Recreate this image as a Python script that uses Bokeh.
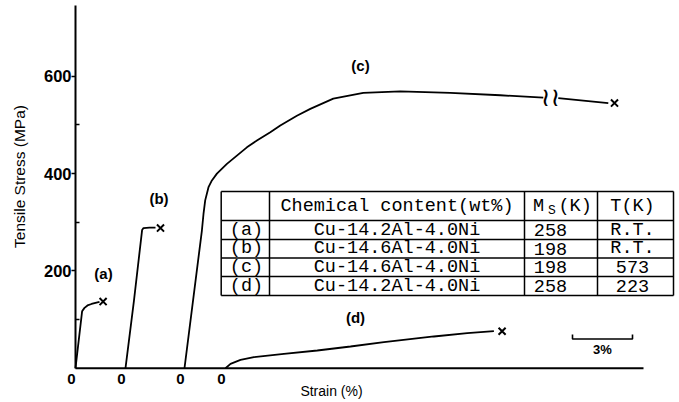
import math
from bokeh.plotting import figure
from bokeh.models import FixedTicker, Range1d
from bokeh.embed import file_html
from bokeh.resources import INLINE
from bokeh.core.properties import value

# ---------------- data (strain in %, stress in MPa) ----------------
curve_names = ["(a)", "(b)", "(c)", "(d)"]
curve_origins = [0.0, 2.5, 5.45, 7.5]          # strain offset where each curve starts

a_strain = [0, 0.33, 0.45, 0.6, 0.8, 1.05, 1.2]
a_stress = [0, 117, 124, 129, 132, 135, 136.5]
a_fracture = [1.38, 137]

b_strain = [0, 0.42, 0.83, 0.9, 1.2, 1.5]
b_stress = [0, 138, 284, 288, 289, 289]
b_fracture = [1.75, 288]

c_strain = [0, 0.87, 0.95, 1.035, 1.2, 1.37, 1.62, 2.12, 2.62, 3.12, 3.62,
            4.29, 4.79, 5.62, 6.29, 7.44, 8.94, 10.79, 13.29, 15.79, 17.94]
c_stress = [0, 283, 317, 345, 372, 386, 400, 420, 437, 454, 468,
            485, 499, 519, 533, 554, 566, 569, 566, 561, 556]
c_break_strain = 18.3
c_break_stress = 557
c_after_strain = [18.69, 21.19]
c_after_stress = [555, 545]
c_fracture = [21.5, 545]

d_strain = [0, 0.25, 0.75, 1.42, 2.92, 4.59, 6.25, 7.92, 10.42, 12.09, 13.42]
d_stress = [0, 9, 17, 22.6, 29.6, 36.4, 44.6, 53.4, 65.2, 71.9, 76]
d_fracture = [13.83, 76]

y_ticks = [200, 400, 600]
y_minor_ticks = [100, 300, 500]
y_axis_top = 745
zero_label = "0"
strain_axis_end = 28.4
scale_bar_strain = 3
scale_bar_text = "3%"

table_header = ["", "Chemical content(wt%)", "M", "S", "(K)", "T(K)"]
row_labels = ["(a)", "(b)", "(c)", "(d)"]
compositions = ["Cu-14.2Al-4.0Ni", "Cu-14.6Al-4.0Ni", "Cu-14.6Al-4.0Ni", "Cu-14.2Al-4.0Ni"]
ms_values = ["258", "198", "198", "258"]
test_temps = ["R.T.", "R.T.", "573", "223"]

# ---------------- layout ----------------
W, H = 679, 402
AXIS_PX = 75.0             # px of zero strain
ZERO_PX = 367.7            # px of zero stress
PX_PER_PCT = 20.0
PX_PER_MPA = 0.4865

def dx(px):   # px -> strain
    return (px - AXIS_PX) / PX_PER_PCT

def dy(py):   # px -> stress
    return (ZERO_PX - py) / PX_PER_MPA

p = figure(width=W, height=H, x_range=Range1d(dx(0), dx(W)), y_range=Range1d(dy(H), dy(0)),
           output_backend="svg", toolbar_location=None, x_axis_type=None,
           min_border_left=0, min_border_right=0, min_border_top=0, min_border_bottom=0)
p.outline_line_color = None
p.ygrid.visible = False
p.background_fill_color = "white"

ax = p.yaxis[0]
ax.fixed_location = 0
ax.ticker = FixedTicker(ticks=y_ticks, minor_ticks=y_minor_ticks)
ax.bounds = (0, y_axis_top)
ax.axis_line_width = 2
ax.axis_line_color = "black"
ax.major_tick_out = 4
ax.major_tick_in = 0
ax.minor_tick_out = 0
ax.minor_tick_in = 4
ax.major_tick_line_width = 1.5
ax.minor_tick_line_width = 1.5
ax.major_label_standoff = 0
ax.major_label_text_font = "Liberation Sans"
ax.major_label_text_font_size = "16.5px"
ax.major_label_text_font_style = "bold"
ax.major_label_text_color = "black"
ax.axis_label = None

SANS = value("Liberation Sans")
p.text(x=[dx(18.5)], y=[dy(176)], text=["Tensile Stress (MPa)"], angle=math.pi / 2,
       text_font=SANS, text_font_size="15.5px", text_align="center", text_baseline="middle",
       text_color="black")

LW = 1.8
# strain baseline
p.line([0, strain_axis_end], [0, 0], line_color="black", line_width=2)

curves = [(a_strain, a_stress, a_fracture), (b_strain, b_stress, b_fracture),
          (c_strain, c_stress, c_fracture), (d_strain, d_stress, d_fracture)]
fx, fy = [], []
for o, (xs, ys, fr) in zip(curve_origins, curves):
    p.line([o + v for v in xs], ys, line_color="black", line_width=LW)
    fx.append(o + fr[0]); fy.append(fr[1])
oc = curve_origins[2]
p.line([oc + v for v in c_after_strain], c_after_stress, line_color="black", line_width=LW)
p.text(x=[oc + c_break_strain], y=[c_break_stress], text=["≀≀"], text_font=value("DejaVu Sans"),
       text_font_size="26px", text_align="center", text_baseline="middle", text_color="black")
p.scatter(fx, fy, marker="x", size=10, line_width=2, line_color="black")

# zero labels beneath each curve origin
p.text(x=[o - 0.2 for o in curve_origins], y=[dy(378)] * 4, text=[zero_label] * 4,
       text_font=SANS, text_font_size="15px", text_font_style="bold",
       text_align="center", text_baseline="middle", text_color="black")
p.text(x=[dx(331)], y=[dy(390)], text=["Strain (%)"], text_font=SANS,
       text_font_size="14px", text_align="center", text_baseline="middle", text_color="black")

# curve labels
lab_px = [(103, 273), (158.5, 198), (360, 65), (355, 317)]
p.text(x=[dx(a) for a, b in lab_px], y=[dy(b) for a, b in lab_px], text=curve_names,
       text_font=SANS, text_font_size="15px", text_font_style="bold", text_align="center",
       text_baseline="middle", text_color="black")

# scale bar
sb_x0 = dx(572); sb_y = dy(338.5); sb_tick = dy(334) - sb_y
p.line([sb_x0, sb_x0, sb_x0 + scale_bar_strain, sb_x0 + scale_bar_strain],
       [sb_y + sb_tick, sb_y, sb_y, sb_y + sb_tick], line_color="black", line_width=1.6)
p.text(x=[sb_x0 + scale_bar_strain / 2], y=[dy(349)], text=[scale_bar_text],
       text_font=SANS, text_font_size="13px", text_font_style="bold",
       text_align="center", text_baseline="middle", text_color="black")

# table
col_px = [220.7, 269, 524, 597, 673]
row_px = [191, 220, 239, 257.5, 276, 295]
cx = [dx(v) for v in col_px]
ry = [dy(v) for v in row_px]
p.quad(left=[cx[0]], right=[cx[-1]], top=[ry[0]], bottom=[ry[-1]], fill_color="white", line_color=None)
p.segment(x0=[cx[0]] * len(ry), x1=[cx[-1]] * len(ry), y0=ry, y1=ry, line_color="black", line_width=1.5)
p.segment(x0=cx, x1=cx, y0=[ry[0]] * len(cx), y1=[ry[-1]] * len(cx), line_color="black", line_width=1.5)

TF = value("Liberation Mono")
TS = "18.5px"
hy = (ry[0] + ry[1]) / 2
p.text(x=[dx(396.5)], y=[hy], text=[table_header[1]], text_font=TF, text_font_size=TS,
       text_align="center", text_baseline="middle", text_color="black")
p.text(x=[dx(538)], y=[hy], text=[table_header[2]], text_font=TF, text_font_size=TS,
       text_align="center", text_baseline="middle", text_color="black")
p.text(x=[dx(551.5)], y=[dy(210)], text=[table_header[3]], text_font=TF, text_font_size="13px",
       text_align="center", text_baseline="middle", text_color="black")
p.text(x=[dx(558)], y=[hy], text=[table_header[4]], text_font=TF, text_font_size=TS,
       text_align="left", text_baseline="middle", text_color="black")
p.text(x=[dx(632)], y=[hy], text=[table_header[5]], text_font=TF, text_font_size=TS,
       text_align="center", text_baseline="middle", text_color="black")

rc = [(ry[i + 1] + ry[i + 2]) / 2 for i in range(4)]
for colx, vals in [(dx(246), row_labels), (dx(396.5), compositions), (dx(550), ms_values), (dx(632), test_temps)]:
    p.text(x=[colx] * 4, y=rc, text=vals, text_font=TF, text_font_size=TS,
           text_align="center", text_baseline="middle", text_color="black")

open("out.html", "w").write(file_html(p, INLINE))
